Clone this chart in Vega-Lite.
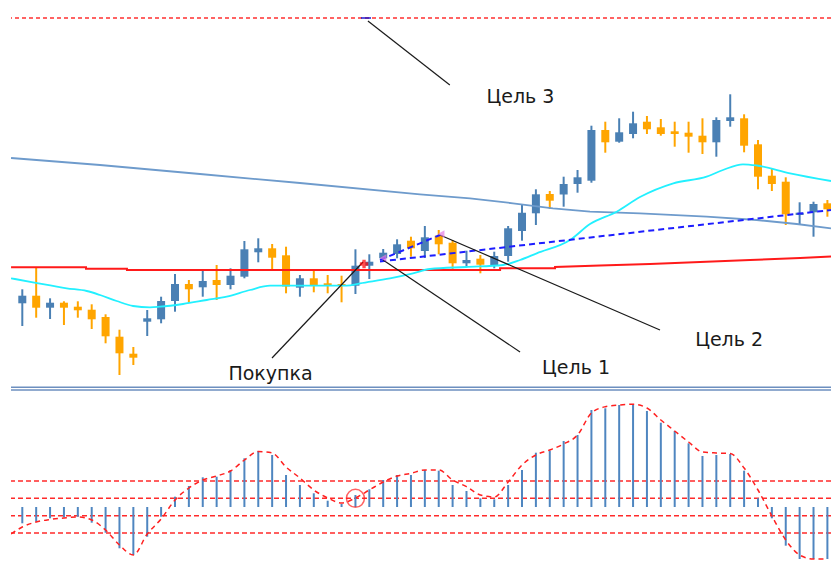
{
  "$schema": "https://vega.github.io/schema/vega-lite/v6.json",
  "background": "white",
  "padding": {"left": 10, "top": 0, "right": 0, "bottom": 0},
  "spacing": 0,
  "config": {"view": {"stroke": null}, "scale": {"continuousPadding": 0}},
  "resolve": {"scale": {"x": "shared", "y": "independent"}},
  "datasets": {
    "candles": [
      {"i": 0, "open": 81.7, "high": 95.7, "low": 59, "close": 89.3},
      {"i": 1, "open": 89.3, "high": 117.7, "low": 67.3, "close": 77.3},
      {"i": 2, "open": 77.3, "high": 86.7, "low": 66, "close": 82.3},
      {"i": 3, "open": 82.3, "high": 83.7, "low": 60, "close": 77.3},
      {"i": 4, "open": 78.3, "high": 83.7, "low": 67.3, "close": 74.7},
      {"i": 5, "open": 75.3, "high": 80.7, "low": 56, "close": 65.7},
      {"i": 6, "open": 68, "high": 70.7, "low": 41.7, "close": 48.7},
      {"i": 7, "open": 48.3, "high": 55.3, "low": 10, "close": 31.7},
      {"i": 8, "open": 31.3, "high": 38, "low": 20, "close": 27.3},
      {"i": 9, "open": 63.3, "high": 75, "low": 49, "close": 66.7},
      {"i": 10, "open": 65.7, "high": 88.3, "low": 61.7, "close": 84},
      {"i": 11, "open": 84, "high": 111, "low": 73.3, "close": 101},
      {"i": 12, "open": 101, "high": 105, "low": 82.3, "close": 95.7},
      {"i": 13, "open": 97.7, "high": 114.3, "low": 88.3, "close": 104},
      {"i": 14, "open": 105, "high": 120, "low": 85, "close": 100},
      {"i": 15, "open": 100, "high": 116.7, "low": 95.7, "close": 109.3},
      {"i": 16, "open": 108.3, "high": 144, "low": 106.7, "close": 135.7},
      {"i": 17, "open": 132.7, "high": 146.7, "low": 122.7, "close": 136.7},
      {"i": 18, "open": 136.7, "high": 141, "low": 115.7, "close": 127.3},
      {"i": 19, "open": 129.7, "high": 138.3, "low": 91.7, "close": 98.5},
      {"i": 20, "open": 97.3, "high": 110, "low": 88.3, "close": 106.7},
      {"i": 21, "open": 106.7, "high": 114.3, "low": 92.7, "close": 100},
      {"i": 22, "open": 101.7, "high": 110, "low": 91.7, "close": 99.3},
      {"i": 23, "open": 101, "high": 109.3, "low": 82.7, "close": 99},
      {"i": 24, "open": 99.3, "high": 135.7, "low": 91, "close": 119.3},
      {"i": 25, "open": 119.3, "high": 130.7, "low": 106, "close": 123.3},
      {"i": 26, "open": 126.7, "high": 136, "low": 123.3, "close": 132.3},
      {"i": 27, "open": 131, "high": 145.7, "low": 126.7, "close": 140.7},
      {"i": 28, "open": 144.3, "high": 148.3, "low": 128.3, "close": 136.7},
      {"i": 29, "open": 134, "high": 159, "low": 127, "close": 147.7},
      {"i": 30, "open": 149.3, "high": 155, "low": 130.7, "close": 140.7},
      {"i": 31, "open": 142.3, "high": 145, "low": 115.7, "close": 121.7},
      {"i": 32, "open": 121.7, "high": 134.3, "low": 118.3, "close": 125},
      {"i": 33, "open": 126.3, "high": 130, "low": 111.7, "close": 120.3},
      {"i": 34, "open": 120, "high": 133.3, "low": 116.7, "close": 129},
      {"i": 35, "open": 129, "high": 159, "low": 123.3, "close": 156.7},
      {"i": 36, "open": 154, "high": 180, "low": 144.3, "close": 172.3},
      {"i": 37, "open": 171.7, "high": 195.7, "low": 160, "close": 190.7},
      {"i": 38, "open": 191, "high": 194, "low": 176, "close": 184.3},
      {"i": 39, "open": 190.5, "high": 208.3, "low": 178.3, "close": 201},
      {"i": 40, "open": 201, "high": 215, "low": 192.3, "close": 207.7},
      {"i": 41, "open": 204.3, "high": 259.3, "low": 202.3, "close": 255},
      {"i": 42, "open": 255, "high": 263.3, "low": 232.3, "close": 242.7},
      {"i": 43, "open": 243.3, "high": 266.7, "low": 242.3, "close": 252.7},
      {"i": 44, "open": 251, "high": 273.3, "low": 246.7, "close": 261.7},
      {"i": 45, "open": 263.3, "high": 269, "low": 251, "close": 255.7},
      {"i": 46, "open": 257.7, "high": 266, "low": 249.3, "close": 251},
      {"i": 47, "open": 253.7, "high": 263.3, "low": 238.3, "close": 251},
      {"i": 48, "open": 252.3, "high": 263.3, "low": 232.3, "close": 248.3},
      {"i": 49, "open": 249.3, "high": 266.7, "low": 231, "close": 242.7},
      {"i": 50, "open": 242.7, "high": 267.7, "low": 228.3, "close": 265},
      {"i": 51, "open": 264, "high": 290.7, "low": 258.3, "close": 267.7},
      {"i": 52, "open": 266.7, "high": 270.7, "low": 232.7, "close": 239.3},
      {"i": 53, "open": 240.7, "high": 245, "low": 195.7, "close": 208.3},
      {"i": 54, "open": 209.3, "high": 216.7, "low": 194, "close": 201},
      {"i": 55, "open": 203.3, "high": 207.7, "low": 160, "close": 170.7},
      {"i": 56, "open": 170, "high": 182.7, "low": 160.7, "close": 172.3},
      {"i": 57, "open": 172.7, "high": 183.3, "low": 148.3, "close": 181},
      {"i": 58, "open": 181.7, "high": 185, "low": 168.3, "close": 175.7}
    ],
    "ma_slow": [
      {"i": -0.81, "p": 227}, {"i": 5.6, "p": 220}, {"i": 12.8, "p": 211}, {"i": 20.0, "p": 202},
      {"i": 28.65, "p": 190.7}, {"i": 32.25, "p": 186.7}, {"i": 35.35, "p": 181.7}, {"i": 38.23, "p": 176.7},
      {"i": 40.9, "p": 173.3}, {"i": 44.5, "p": 171.7}, {"i": 49.3, "p": 168.3}, {"i": 52.91, "p": 165},
      {"i": 55.79, "p": 161}, {"i": 58.26, "p": 156.7}
    ],
    "ma_red": [
      {"i": -0.81, "p": 117.7}, {"i": 4.59, "p": 117.7}, {"i": 4.59, "p": 116.3}, {"i": 7.54, "p": 116.3},
      {"i": 7.54, "p": 115}, {"i": 34.42, "p": 115}, {"i": 34.42, "p": 116.7}, {"i": 38.38, "p": 116.7},
      {"i": 38.38, "p": 118}, {"i": 41.62, "p": 119.5}, {"i": 45.22, "p": 121}, {"i": 48.83, "p": 123},
      {"i": 52.43, "p": 125}, {"i": 56.03, "p": 127}, {"i": 58.26, "p": 128.5}
    ],
    "ma_cyan": [
      {"i": -0.81, "p": 106.7}, {"i": 0.77, "p": 102.7}, {"i": 3.2, "p": 96.7}, {"i": 4.64, "p": 94},
      {"i": 5.6, "p": 90}, {"i": 6.8, "p": 84}, {"i": 7.98, "p": 79}, {"i": 9.2, "p": 77.7},
      {"i": 9.92, "p": 78.3}, {"i": 11.58, "p": 81}, {"i": 13.29, "p": 85}, {"i": 14.73, "p": 88.3},
      {"i": 16.4, "p": 95}, {"i": 17.85, "p": 99.3}, {"i": 23.37, "p": 99.3}, {"i": 24.33, "p": 101.7},
      {"i": 26.49, "p": 106.7}, {"i": 28.15, "p": 111.7}, {"i": 29.37, "p": 116}, {"i": 31.97, "p": 118},
      {"i": 34.63, "p": 120}, {"i": 35.86, "p": 125}, {"i": 37.06, "p": 131.7}, {"i": 39.46, "p": 145},
      {"i": 40.9, "p": 161}, {"i": 42.82, "p": 173.3}, {"i": 44.5, "p": 188}, {"i": 46.9, "p": 201.7},
      {"i": 49.3, "p": 208.3}, {"i": 50.48, "p": 215}, {"i": 51.92, "p": 220.7}, {"i": 52.91, "p": 219.5},
      {"i": 55.31, "p": 211.7}, {"i": 58.26, "p": 204}
    ],
    "channel": [
      {"id": "A", "i": 25.77, "p": 123.5}, {"id": "A", "i": 58.26, "p": 175},
      {"id": "B", "i": 25.77, "p": 125}, {"id": "B", "i": 30.09, "p": 150}
    ],
    "leaders": [
      {"id": "t3", "i": 24.9, "p": 364}, {"id": "t3", "i": 30.8, "p": 300},
      {"id": "buy", "i": 17.99, "p": 27}, {"id": "buy", "i": 24.55, "p": 123},
      {"id": "t1", "i": 25.99, "p": 125}, {"id": "t1", "i": 35.86, "p": 33},
      {"id": "t2", "i": 30.09, "p": 150}, {"id": "t2", "i": 45.94, "p": 55}
    ],
    "labels": [
      {"label": "Цель 3", "i": 35.89, "p": 282.5},
      {"label": "Покупка", "i": 17.88, "p": 5},
      {"label": "Цель 1", "i": 39.89, "p": 11.5},
      {"label": "Цель 2", "i": 50.92, "p": 39.5}
    ],
    "buy": [{"i": 24.62, "p": 121}],
    "targets": [{"i": 25.99, "p": 127}, {"i": 30.17, "p": 151}],
    "top_target": [{"i": 24.76, "p": 367}],
    "top_level": [{"p": 367}],
    "histo": [
      {"i": -0.81, "v": null, "s": -27},
      {"i": 0, "v": -16.3, "s": -20}, {"i": 1, "v": -14.7, "s": -15}, {"i": 2, "v": -11.3, "s": -12.5},
      {"i": 3, "v": -10.3, "s": -11}, {"i": 4, "v": -9.7, "s": -10}, {"i": 5, "v": -15.7, "s": -13},
      {"i": 6, "v": -25.7, "s": -23}, {"i": 7, "v": -41.3, "s": -38}, {"i": 8, "v": -48, "s": -48},
      {"i": 9, "v": -29.7, "s": -27}, {"i": 10, "v": -9.7, "s": -12}, {"i": 11, "v": 10.3, "s": 7},
      {"i": 12, "v": 21, "s": 19}, {"i": 13, "v": 29.7, "s": 27}, {"i": 14, "v": 30.3, "s": 31},
      {"i": 15, "v": 37, "s": 36}, {"i": 16, "v": 48.7, "s": 47}, {"i": 17, "v": 56, "s": 55.5},
      {"i": 18, "v": 52, "s": 54}, {"i": 19, "v": 32, "s": 40}, {"i": 20, "v": 22, "s": 29},
      {"i": 21, "v": 13.7, "s": 17}, {"i": 22, "v": 6.3, "s": 9}, {"i": 23, "v": 3, "s": 4},
      {"i": 24, "v": 12, "s": 9}, {"i": 25, "v": 17.7, "s": 17}, {"i": 26, "v": 27, "s": 25},
      {"i": 27, "v": 32, "s": 31}, {"i": 28, "v": 32, "s": 33.7}, {"i": 29, "v": 37, "s": 37},
      {"i": 30, "v": 36.3, "s": 37}, {"i": 31, "v": 22, "s": 27}, {"i": 32, "v": 16, "s": 20.3},
      {"i": 33, "v": 8.7, "s": 12}, {"i": 34, "v": 7.7, "s": 10}, {"i": 35, "v": 22, "s": 25},
      {"i": 36, "v": 37, "s": 42}, {"i": 37, "v": 54.3, "s": 52}, {"i": 38, "v": 56.3, "s": 57},
      {"i": 39, "v": 66, "s": 63}, {"i": 40, "v": 72, "s": 72}, {"i": 41, "v": 97, "s": 94},
      {"i": 42, "v": 98.7, "s": 100.3}, {"i": 43, "v": 102, "s": 102}, {"i": 44, "v": 102.7, "s": 102.7},
      {"i": 45, "v": 96, "s": 99}, {"i": 46, "v": 84.3, "s": 87}, {"i": 47, "v": 76, "s": 76},
      {"i": 48, "v": 63.7, "s": 65}, {"i": 49, "v": 51, "s": 55}, {"i": 50, "v": 52, "s": 54},
      {"i": 51, "v": 53, "s": 53.5}, {"i": 52, "v": 36.3, "s": 39}, {"i": 53, "v": 8.7, "s": 17},
      {"i": 54, "v": -11.3, "s": -9}, {"i": 55, "v": -38.7, "s": -33}, {"i": 56, "v": -52, "s": -48},
      {"i": 57, "v": -52, "s": -52}, {"i": 58, "v": -52, "s": -52}
    ],
    "levels": [{"v": 26}, {"v": 8.7}, {"v": -8.7}, {"v": -26}],
    "separator": [{"v": 119.7}, {"v": 117}],
    "circle": [{"i": 24, "v": 8.7}]
  },
  "vconcat": [
    {
      "width": 820,
      "height": 385,
      "layer": [
        {
          "data": {"name": "top_level"},
          "mark": {"type": "rule", "color": "#ff3030", "strokeWidth": 1.5, "strokeDash": [4, 3]},
          "encoding": {
            "y": {"field": "p", "type": "quantitative", "scale": {"domain": [0, 385], "nice": false, "zero": false}, "axis": null}
          }
        },
        {
          "data": {"name": "candles"},
          "mark": {"type": "rule", "strokeWidth": 2, "clip": true},
          "encoding": {
            "x": {"field": "i", "type": "quantitative", "scale": {"domain": [-0.814, 58.26], "nice": false, "zero": false, "padding": 0}, "axis": null},
            "y": {"field": "low", "type": "quantitative", "scale": {"domain": [0, 385], "nice": false, "zero": false}, "axis": null},
            "y2": {"field": "high"},
            "color": {"condition": {"test": "datum.close >= datum.open", "value": "#4a80b4"}, "value": "#ffa500"}
          }
        },
        {
          "data": {"name": "candles"},
          "mark": {"type": "bar", "width": 8, "clip": true},
          "encoding": {
            "x": {"field": "i", "type": "quantitative", "scale": {"domain": [-0.814, 58.26], "nice": false, "zero": false, "padding": 0}, "axis": null},
            "y": {"field": "open", "type": "quantitative", "scale": {"domain": [0, 385], "nice": false, "zero": false}, "axis": null},
            "y2": {"field": "close"},
            "color": {"condition": {"test": "datum.close >= datum.open", "value": "#4a80b4"}, "value": "#ffa500"}
          }
        },
        {
          "data": {"name": "ma_slow"},
          "mark": {"type": "line", "color": "#6e9bcc", "strokeWidth": 1.8, "clip": true},
          "encoding": {
            "x": {"field": "i", "type": "quantitative"},
            "y": {"field": "p", "type": "quantitative"}
          }
        },
        {
          "data": {"name": "ma_red"},
          "mark": {"type": "line", "color": "#ff1a1a", "strokeWidth": 2, "clip": true},
          "encoding": {
            "x": {"field": "i", "type": "quantitative"},
            "y": {"field": "p", "type": "quantitative"}
          }
        },
        {
          "data": {"name": "ma_cyan"},
          "mark": {"type": "line", "color": "#22f0ff", "strokeWidth": 1.8, "interpolate": "monotone", "clip": true},
          "encoding": {
            "x": {"field": "i", "type": "quantitative"},
            "y": {"field": "p", "type": "quantitative"}
          }
        },
        {
          "data": {"name": "channel"},
          "mark": {"type": "line", "color": "#1d1dff", "strokeWidth": 2, "strokeDash": [6, 4], "clip": true},
          "encoding": {
            "x": {"field": "i", "type": "quantitative"},
            "y": {"field": "p", "type": "quantitative"},
            "detail": {"field": "id"}
          }
        },
        {
          "data": {"name": "leaders"},
          "mark": {"type": "line", "color": "#1a1a1a", "strokeWidth": 1.2, "clip": true},
          "encoding": {
            "x": {"field": "i", "type": "quantitative"},
            "y": {"field": "p", "type": "quantitative"},
            "detail": {"field": "id"}
          }
        },
        {
          "data": {"name": "buy"},
          "mark": {"type": "point", "shape": "cross", "filled": true, "color": "#ff0000", "size": 70},
          "encoding": {
            "x": {"field": "i", "type": "quantitative"},
            "y": {"field": "p", "type": "quantitative"}
          }
        },
        {
          "data": {"name": "targets"},
          "mark": {"type": "point", "shape": "triangle-left", "filled": true, "color": "#e27be2", "size": 60},
          "encoding": {
            "x": {"field": "i", "type": "quantitative"},
            "y": {"field": "p", "type": "quantitative"}
          }
        },
        {
          "data": {"name": "top_target"},
          "mark": {"type": "point", "shape": "stroke", "color": "#1010d0", "strokeWidth": 2, "size": 100},
          "encoding": {
            "x": {"field": "i", "type": "quantitative"},
            "y": {"field": "p", "type": "quantitative"}
          }
        },
        {
          "data": {"name": "labels"},
          "mark": {"type": "text", "font": "DejaVu Sans", "fontSize": 19, "color": "#1a1a1a", "align": "center", "baseline": "alphabetic"},
          "encoding": {
            "x": {"field": "i", "type": "quantitative"},
            "y": {"field": "p", "type": "quantitative"},
            "text": {"field": "label"}
          }
        }
      ]
    },
    {
      "width": 820,
      "height": 192,
      "layer": [
        {
          "data": {"name": "separator"},
          "mark": {"type": "rule", "color": "#6d8fbf", "strokeWidth": 1.4},
          "encoding": {
            "y": {"field": "v", "type": "quantitative", "scale": {"domain": [-70, 122], "nice": false, "zero": false}, "axis": null}
          }
        },
        {
          "data": {"name": "levels"},
          "mark": {"type": "rule", "color": "#ff2a2a", "strokeWidth": 1.5, "strokeDash": [5, 3]},
          "encoding": {
            "y": {"field": "v", "type": "quantitative"}
          }
        },
        {
          "data": {"name": "histo"},
          "mark": {"type": "rule", "color": "#4f86c0", "strokeWidth": 2, "clip": true},
          "encoding": {
            "x": {"field": "i", "type": "quantitative", "scale": {"domain": [-0.814, 58.26], "nice": false, "zero": false, "padding": 0}, "axis": null},
            "y": {"field": "v", "type": "quantitative"},
            "y2": {"datum": 0}
          }
        },
        {
          "data": {"name": "histo"},
          "mark": {"type": "line", "color": "#ff2020", "strokeWidth": 1.5, "strokeDash": [5, 4], "interpolate": "monotone", "clip": true},
          "encoding": {
            "x": {"field": "i", "type": "quantitative"},
            "y": {"field": "s", "type": "quantitative"}
          }
        },
        {
          "data": {"name": "circle"},
          "mark": {"type": "point", "shape": "circle", "filled": false, "color": "#ff2020", "strokeWidth": 1.5, "size": 324},
          "encoding": {
            "x": {"field": "i", "type": "quantitative"},
            "y": {"field": "v", "type": "quantitative"}
          }
        }
      ]
    }
  ]
}
